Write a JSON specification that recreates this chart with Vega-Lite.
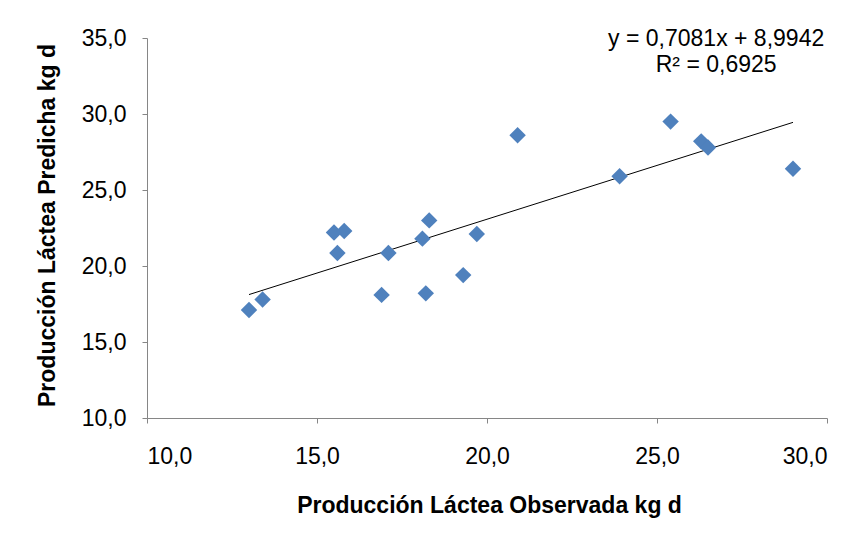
{
  "$schema": "https://vega.github.io/schema/vega-lite/v6.json",
  "autosize": {"type": "none"},
  "width": 680,
  "height": 380,
  "padding": {"left": 147, "top": 38, "right": 37, "bottom": 129},
  "background": "white",
  "config": {
    "view": {"stroke": null},
    "font": "Liberation Sans",
    "axis": {
      "grid": false,
      "domainColor": "#868686",
      "tickColor": "#868686",
      "tickSize": 5,
      "labelFont": "Liberation Sans",
      "labelFontSize": 23,
      "labelColor": "#000000",
      "titleFont": "Liberation Sans",
      "titleFontSize": 23,
      "titleFontWeight": "bold",
      "titleColor": "#000000"
    }
  },
  "datasets": {
    "points": [
      {"obs": 13.0, "pred": 17.1},
      {"obs": 13.4, "pred": 17.8},
      {"obs": 15.5, "pred": 22.2},
      {"obs": 15.8, "pred": 22.3},
      {"obs": 15.6, "pred": 20.85},
      {"obs": 16.9, "pred": 18.1},
      {"obs": 17.1, "pred": 20.85},
      {"obs": 18.1, "pred": 21.8},
      {"obs": 18.2, "pred": 18.2},
      {"obs": 18.3, "pred": 23.0},
      {"obs": 19.3, "pred": 19.4},
      {"obs": 19.7, "pred": 22.1},
      {"obs": 20.9, "pred": 28.6},
      {"obs": 23.9, "pred": 25.9},
      {"obs": 25.4, "pred": 29.5},
      {"obs": 26.3, "pred": 28.2},
      {"obs": 26.5, "pred": 27.8},
      {"obs": 29.0, "pred": 26.4}
    ],
    "trend": [
      {"obs": 13.0, "pred": 18.12},
      {"obs": 29.0, "pred": 29.45}
    ],
    "labels": [
      {"obs": 26.74, "pred": 34.93, "text": "y = 0,7081x + 8,9942"},
      {"obs": 26.74, "pred": 33.22, "text": "R² = 0,6925"}
    ]
  },
  "encoding": {
    "x": {
      "field": "obs",
      "type": "quantitative",
      "scale": {"domain": [10, 30], "nice": false, "zero": false},
      "axis": {
        "title": "Producción Láctea Observada kg d",
        "values": [10, 15, 20, 25, 30],
        "labelExpr": "replace(format(datum.value, '.1f'), '.', ',')",
        "labelPadding": 22,
        "titleBaseline": "alphabetic",
        "titleX": 342,
        "titleY": 94,
        "titleAnchor": "middle",
        "titleAlign": "center"
      }
    },
    "y": {
      "field": "pred",
      "type": "quantitative",
      "scale": {"domain": [10, 35], "nice": false, "zero": false},
      "axis": {
        "title": "Producción Láctea Predicha kg d",
        "values": [10, 15, 20, 25, 30, 35],
        "labelExpr": "replace(format(datum.value, '.1f'), '.', ',')",
        "labelPadding": 16,
        "titleAngle": -90,
        "titleX": -100,
        "titleY": 187,
        "titleAlign": "center",
        "titleBaseline": "middle"
      }
    }
  },
  "layer": [
    {
      "data": {"name": "trend"},
      "mark": {"type": "line", "color": "#000000", "strokeWidth": 1},
      "encoding": {}
    },
    {
      "data": {"name": "points"},
      "mark": {"type": "point", "shape": "diamond", "filled": true, "size": 270, "color": "#4F81BD", "opacity": 1},
      "encoding": {}
    },
    {
      "data": {"name": "labels"},
      "mark": {"type": "text", "fontSize": 23, "font": "Liberation Sans", "color": "#000000", "align": "center", "baseline": "middle"},
      "encoding": {"text": {"field": "text"}}
    }
  ]
}
